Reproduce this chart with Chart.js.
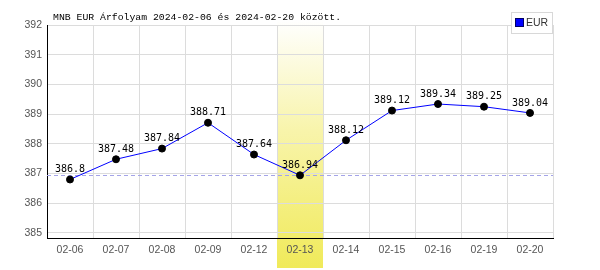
<!DOCTYPE html>
<html><head><meta charset="utf-8">
<script src="https://cdn.jsdelivr.net/npm/chart.js@4"></script>
<style>html,body{margin:0;padding:0;background:#fff}#wrap{width:600px;height:270px}</style>
</head><body><div id="wrap"><canvas id="c" width="600" height="270"></canvas></div>
<script>
const categories = ["02-06","02-07","02-08","02-09","02-12","02-13","02-14","02-15","02-16","02-19","02-20"];
const eurValues = [386.8, 387.48, 387.84, 388.71, 387.64, 386.94, 388.12, 389.12, 389.34, 389.25, 389.04];
const valueLabels = ["386.8","387.48","387.84","388.71","387.64","386.94","388.12","389.12","389.34","389.25","389.04"];
const yTicks = [385,386,387,388,389,390,391,392];
const highlightCategory = "02-13";
const referenceValue = 386.94;
const titleText = "MNB EUR Árfolyam 2024-02-06 és 2024-02-20 között.";
const seriesName = "EUR";

const decor = {
  id: 'decor',
  beforeDraw(chart) {
    const ctx = chart.ctx, x = chart.scales.x, a = chart.chartArea;
    const idx = categories.indexOf(highlightCategory);
    const cx = x.getPixelForValue(idx);
    const half = (x.getPixelForValue(1) - x.getPixelForValue(0)) / 2;
    const top = a.top - 5, bot = chart.height - 2;
    const g = ctx.createLinearGradient(0, top, 0, bot);
    g.addColorStop(0, 'rgba(255,255,255,1)');
    g.addColorStop(0.45, 'rgb(248,244,170)');
    g.addColorStop(1, 'rgb(240,234,90)');
    ctx.save();
    ctx.fillStyle = g;
    ctx.fillRect(Math.round(cx - half), top, Math.round(2 * half), bot - top);
    ctx.restore();
  },
  beforeDatasetsDraw(chart) {
    const ctx = chart.ctx, y = chart.scales.y, a = chart.chartArea;
    const py = Math.round(y.getPixelForValue(referenceValue)) + 0.5;
    ctx.save();
    ctx.strokeStyle = '#a4a4e8';
    ctx.lineWidth = 1;
    ctx.setLineDash([4, 3]);
    ctx.beginPath(); ctx.moveTo(a.left, py); ctx.lineTo(a.right, py); ctx.stroke();
    ctx.restore();
  },
  afterDatasetsDraw(chart) {
    const ctx = chart.ctx;
    const meta = chart.getDatasetMeta(0);
    ctx.save();
    ctx.font = '10px "DejaVu Sans Mono", monospace';
    ctx.fillStyle = '#000';
    ctx.textAlign = 'center';
    ctx.textBaseline = 'bottom';
    meta.data.forEach((pt, i) => {
      ctx.fillText(valueLabels[i], pt.x, pt.y - 5);
    });
    // title
    ctx.font = '9.8px "Liberation Mono", "DejaVu Sans Mono", monospace';
    ctx.textAlign = 'left';
    ctx.textBaseline = 'alphabetic';
    ctx.fillText(titleText, 53, 19.5);
    // legend
    ctx.fillStyle = '#fff';
    ctx.fillRect(511, 12, 41, 21);
    ctx.strokeStyle = '#d8d8d8';
    ctx.lineWidth = 1;
    ctx.strokeRect(511.5, 12.5, 41, 21);
    ctx.fillStyle = '#0000ff';
    ctx.fillRect(516, 19, 7, 7);
    ctx.strokeStyle = '#000066';
    ctx.strokeRect(515.5, 18.5, 8, 8);
    ctx.fillStyle = '#333';
    ctx.font = '10.5px "Liberation Sans", Arial, sans-serif';
    ctx.textBaseline = 'middle';
    ctx.fillText(seriesName, 526, 23);
    ctx.restore();
  }
};

new Chart(document.getElementById('c'), {
  type: 'line',
  data: {
    labels: categories,
    datasets: [{
      label: seriesName,
      data: eurValues,
      borderColor: '#0000ff',
      borderWidth: 1,
      pointRadius: 3.5,
      pointBackgroundColor: '#000',
      pointBorderColor: '#000',
      pointBorderWidth: 1,
      tension: 0,
      fill: false
    }]
  },
  options: {
    responsive: false,
    animation: false,
    devicePixelRatio: 1,
    layout: { padding: { top: 25, right: 47, left: 0, bottom: 0 } },
    plugins: { legend: { display: false }, title: { display: false }, tooltip: { enabled: false } },
    scales: {
      x: {
        offset: true,
        grid: { offset: true, color: '#dcdcdc', drawTicks: false },
        border: { color: '#000', width: 1 },
        ticks: { color: '#555', font: { family: '"Liberation Sans", Arial, sans-serif', size: 10.5 }, padding: 6, maxRotation: 0, autoSkip: false },
        afterFit(s) { s.height = 32; }
      },
      y: {
        min: 384.83,
        max: 392,
        afterBuildTicks(s) { s.ticks = yTicks.map(v => ({ value: v })); },
        grid: { color: '#dcdcdc', drawTicks: false },
        border: { color: '#000', width: 1 },
        ticks: { color: '#555', font: { family: '"Liberation Sans", Arial, sans-serif', size: 10.5 }, padding: 5, callback: v => String(v) },
        afterFit(s) { s.width = 47; }
      }
    }
  },
  plugins: [decor]
});
</script>
</body></html>
